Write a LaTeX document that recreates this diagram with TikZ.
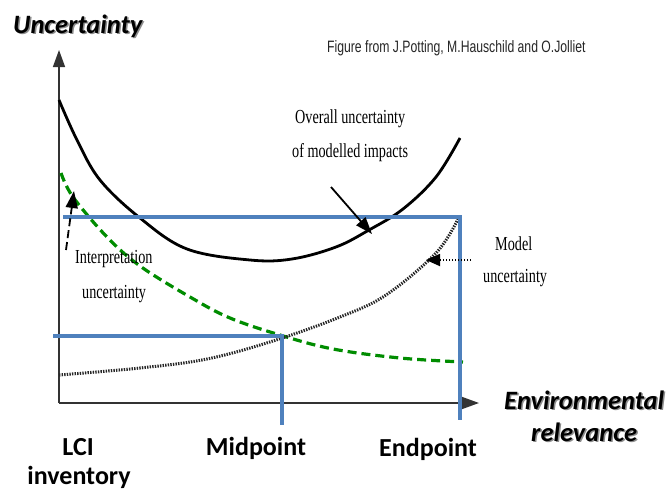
\documentclass[tikz,border=0pt]{standalone}
\usepackage{fontspec}
\setmainfont{Liberation Serif}
\newfontfamily\calibri{Carlito}
\newfontfamily\arialf{Liberation Sans}
\usetikzlibrary{arrows.meta}

\definecolor{refblue}{RGB}{79,129,189}
\definecolor{curvegreen}{RGB}{0,140,0}

% tall serif text used for the curve annotations
\newcommand{\tallserif}[1]{\scalebox{1}[1.4]{#1}}

\begin{document}
\begin{tikzpicture}[x=1pt,y=-1pt,
  axisline/.style={draw=black!80, line width=1.4pt, -{Triangle[length=17pt,width=12pt]}},
  bluebar/.style={draw=refblue, line width=3.5pt, line join=miter},
  bigtitle/.style={font=\calibri\bfseries\itshape\fontsize{26.5}{28}\selectfont, inner sep=0pt, anchor=base west},
  biglabel/.style={font=\calibri\bfseries\fontsize{26}{28}\selectfont, inner sep=0pt, anchor=base},
  shadowed/.style={text=black!45},
  serifnote/.style={font=\fontsize{14.2}{16}\selectfont, inner sep=0pt, anchor=base west},
  pointer/.style={line width=1.8pt, -{Triangle[length=17pt,width=12pt]}},
  overall/.style={draw=black, line width=2.8pt},
  interp/.style={draw=curvegreen, line width=3.2pt, dash pattern=on 9pt off 5pt},
  model/.style={draw=black!85, line width=3pt, dash pattern=on 1.4pt off 1.2pt}]

\useasboundingbox (0,0) rectangle (672,490);

% axes
\coordinate (origin) at (59,403);
\coordinate (ytip) at (59,50);
\coordinate (xtip) at (479,403);
\draw[axisline] (origin) -- (ytip);
\draw[axisline] (origin) -- (xtip);

% overall uncertainty curve
\draw[overall] plot[smooth, tension=0.6] coordinates {(59,100) (77,140) (100,180) (140,218) (187,249) (250,260) (292,259) (336,247) (369,230) (403,209) (436,177) (460,138)};

% interpretation uncertainty curve
\draw[interp] plot[smooth, tension=0.6] coordinates {(61,173) (73,197) (107,237) (140,266) (190,297) (230,318) (280,335) (333,349) (400,358) (463,362)};

% model uncertainty curve
\draw[model] plot[smooth, tension=0.6] coordinates {(59,375) (140,368) (207,359) (273,341) (340,317) (386,295) (436,253) (458,219)};

% reference levels
\coordinate (endL) at (63,217);
\coordinate (endC) at (460,217);
\coordinate (endB) at (460,420);
\coordinate (midL) at (53,336);
\coordinate (midC) at (282,336);
\coordinate (midB) at (282,425);
\draw[bluebar] (endL) -- (endC) -- (endB);
\draw[bluebar] (midL) -- (midC) -- (midB);

% annotation arrows
\coordinate (ovS) at (331,187);
\coordinate (ovE) at (372,234);
\draw[pointer] (ovS) -- (ovE);
\coordinate (inS) at (66,250);
\coordinate (inE) at (74,191);
\draw[pointer, dash pattern=on 8pt off 4pt] (inS) -- (inE);
\coordinate (moS) at (471,260);
\coordinate (moE) at (426,260);
\draw[pointer, dash pattern=on 1.5pt off 1.5pt, -{Triangle[length=14pt,width=12pt]}] (moS) -- (moE);

% annotations
\node[font=\arialf\fontsize{12.2}{14}\selectfont, inner sep=0pt, anchor=base west, text=black!85] (credit) at (327,52) {\scalebox{1}[1.35]{Figure from J.Potting, M.Hauschild and O.Jolliet}};
\node[serifnote] (ov1) at (295,123) {\tallserif{Overall uncertainty}};
\node[serifnote] (ov2) at (292,157) {\tallserif{of modelled impacts}};
\node[serifnote] (in1) at (75,263) {\tallserif{Interpretation}};
\node[serifnote] (in2) at (82,298) {\tallserif{uncertainty}};
\node[serifnote] (mo1) at (495,250) {\tallserif{Model}};
\node[serifnote] (mo2) at (483,282) {\tallserif{uncertainty}};

% axis titles with drop shadow
\node[bigtitle, shadowed] (ytitleS) at (14.5,34.5) {Uncertainty};
\node[bigtitle] (ytitle) at (13,33) {Uncertainty};
\node[bigtitle, shadowed] (xtitle1S) at (505.5,410.5) {Environmental};
\node[bigtitle] (xtitle1) at (504,409) {Environmental};
\node[bigtitle, shadowed] (xtitle2S) at (532.5,442.5) {relevance};
\node[bigtitle] (xtitle2) at (531,441) {relevance};

% stage labels
\node[biglabel] (lci) at (78,455) {LCI};
\node[biglabel] (inv) at (79,484) {inventory};
\node[biglabel] (mid) at (256,455) {Midpoint};
\node[biglabel] (endp) at (428,456) {Endpoint};
\end{tikzpicture}
\end{document}
